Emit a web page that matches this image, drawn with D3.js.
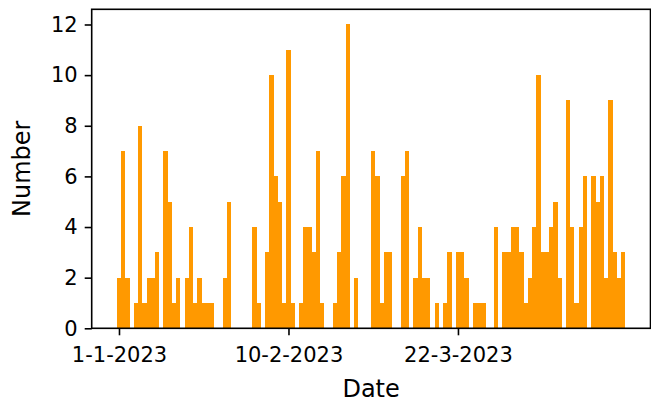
<!DOCTYPE html>
<html>
<head>
<meta charset="utf-8">
<script src="https://cdn.jsdelivr.net/npm/d3@7"></script>
<style>
  html, body { margin: 0; padding: 0; background: #fff; }
  svg { display: block; }
  .tick text { font-family: "DejaVu Sans", sans-serif; }
</style>
</head>
<body>
<svg id="chart" width="651" height="405"></svg>
<script>
// ---- data ----
const startDate = "2023-01-01";
const counts = [
  2,7,2,0,1,8,1,2,2,3,
  0,7,5,1,2,0,2,4,1,2,
  1,1,1,0,0,2,5,0,0,0,
  0,0,4,1,0,3,10,6,5,1,
  11,1,0,1,4,4,3,7,1,0,
  0,1,3,6,12,0,2,0,0,0,
  7,6,1,3,3,0,0,6,7,0,
  2,4,2,2,0,1,0,1,3,0,
  3,3,2,0,1,1,1,0,0,4,
  0,3,3,4,4,3,1,2,4,10,
  3,3,4,5,2,0,9,4,1,4,
  6,0,6,5,6,2,9,3,2,3
];
const tickDates = ["2023-01-01", "2023-02-10", "2023-03-22"];
const tickLabels = ["1-1-2023", "10-2-2023", "22-3-2023"];
const yTicks = [0, 2, 4, 6, 8, 10, 12];

// ---- build ----
const parse = d3.utcParse("%Y-%m-%d");
const t0 = parse(startDate);
const data = counts.map((v, i) => ({ date: d3.utcDay.offset(t0, i), value: v }));
const tickDateObjs = tickDates.map(parse);

const svg = d3.select("#chart");
const mLeft = 91.7, mRight = 650.5, mTop = 9.3, mBottom = 328.3;

const dayMs = 86400000;
const x = d3.scaleUtc()
  .domain([new Date(+t0 - 6.44 * dayMs), new Date(+t0 + 125.44 * dayMs)])
  .range([mLeft, mRight]);
const y = d3.scaleLinear().domain([0, 12.6]).range([mBottom, mTop]);

const barW = 1.0; // in days
svg.append("g").attr("shape-rendering", "crispEdges").selectAll("rect")
  .data(data.filter(d => d.value > 0))
  .join("rect")
  .attr("x", d => x(new Date(+d.date - barW / 2 * dayMs)))
  .attr("width", d => x(new Date(+d.date + barW / 2 * dayMs)) - x(new Date(+d.date - barW / 2 * dayMs)))
  .attr("y", d => y(d.value))
  .attr("height", d => y(0) - y(d.value))
  .attr("fill", "#ff9900");

// axes
const xAxis = d3.axisBottom(x)
  .tickValues(tickDateObjs)
  .tickFormat((d, i) => tickLabels[i])
  .tickSize(7).tickPadding(12);
const gx = svg.append("g").attr("transform", `translate(0,${mBottom})`).call(xAxis);
gx.select(".domain").remove();
gx.selectAll(".tick line").attr("stroke", "#000").attr("stroke-width", 1.6);
gx.selectAll(".tick text").attr("font-size", 21).attr("fill", "#000");

const yAxis = d3.axisLeft(y).tickValues(yTicks).tickSize(7).tickPadding(7);
const gy = svg.append("g").attr("transform", `translate(${mLeft},0)`).call(yAxis);
gy.select(".domain").remove();
gy.selectAll(".tick line").attr("stroke", "#000").attr("stroke-width", 1.6);
gy.selectAll(".tick text").attr("font-size", 21).attr("fill", "#000");

// frame
svg.append("rect")
  .attr("x", mLeft).attr("y", mTop)
  .attr("width", mRight - mLeft).attr("height", mBottom - mTop)
  .attr("fill", "none").attr("stroke", "#000").attr("stroke-width", 1.6);

// labels
svg.append("text")
  .attr("x", (mLeft + mRight) / 2).attr("y", 397)
  .attr("text-anchor", "middle")
  .attr("font-family", "DejaVu Sans, sans-serif").attr("font-size", 24)
  .text("Date");
svg.append("text")
  .attr("transform", `translate(30,${(mTop + mBottom) / 2}) rotate(-90)`)
  .attr("text-anchor", "middle")
  .attr("font-family", "DejaVu Sans, sans-serif").attr("font-size", 24)
  .text("Number");
</script>
</body>
</html>
